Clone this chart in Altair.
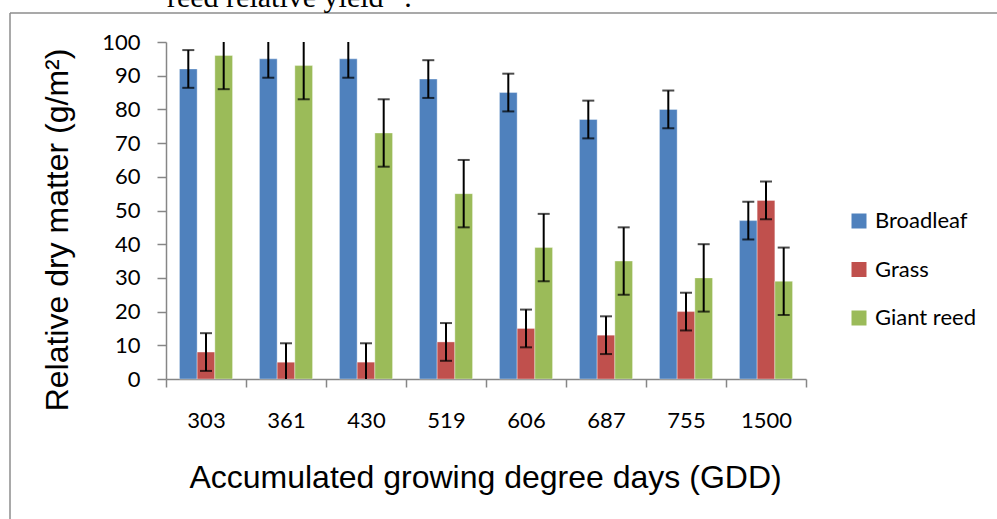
import altair as alt
import pandas as pd

gdd = ["303", "361", "430", "519", "606", "687", "755", "1500"]
series = ["Broadleaf", "Grass", "Giant reed"]
colors = ["#4F81BD", "#C0504D", "#9BBB59"]

broadleaf = [92, 95, 95, 89, 85, 77, 80, 47]
grass = [8, 5, 5, 11, 15, 13, 20, 53]
giant_reed = [96, 93, 73, 55, 39, 35, 30, 29]

broadleaf_err = [5.6, 5.6, 5.6, 5.6, 5.6, 5.6, 5.6, 5.6]
grass_err = [5.6, 5.6, 5.6, 5.6, 5.6, 5.6, 5.6, 5.6]
giant_reed_err = [10, 10, 10, 10, 10, 10, 10, 10]

y_ticks = [0, 10, 20, 30, 40, 50, 60, 70, 80, 90, 100]
caption = "reed relative yield\u201d ."

rows = []
for name, vals, errs in [("Broadleaf", broadleaf, broadleaf_err),
                         ("Grass", grass, grass_err),
                         ("Giant reed", giant_reed, giant_reed_err)]:
    for g, v, e in zip(gdd, vals, errs):
        rows.append({"gdd": g, "series": name, "value": v, "lo": v - e, "hi": v + e})
df = pd.DataFrame(rows)

W, H = 640, 337
PAD_L, PAD_T = 166, 42
AX = "#868686"

x_axis = alt.Axis(
    title="Accumulated growing degree days (GDD)",
    labelAngle=0, labelFont="Lato", labelFontSize=22, labelColor="black",
    labelPadding=23, tickSize=8, tickWidth=1.5, tickColor=AX,
    domainColor=AX, domainWidth=1.5, tickBand="extent", grid=False,
    labelOverlap=False,
    titleFont="Liberation Sans", titleFontSize=32, titleFontWeight="normal",
    titleColor="black", titleX=319, titleY=108, titleBaseline="alphabetic",
    titleAlign="center",
)
y_axis = alt.Axis(
    title="Relative dry matter (g/m\u00b2)", values=y_ticks,
    tickCount=11, grid=False, labelOverlap=False,
    labelFont="Lato", labelFontSize=22, labelColor="black",
    labelPadding=17, tickSize=9, tickWidth=1.5, tickColor=AX,
    domainColor=AX, domainWidth=1.5,
    titleFont="Liberation Sans", titleFontSize=32,
    titleFontWeight="normal", titleColor="black",
    titleAngle=270, titleX=-99, titleY=187.5,
    titleBaseline="alphabetic", titleAlign="center",
)

x_scale = alt.Scale(paddingInner=0, paddingOuter=0)
xo_scale = alt.Scale(paddingInner=0, paddingOuter=0.76)
y_scale = alt.Scale(domain=[0, 100], nice=False, zero=True)


def xe():
    return alt.X("gdd:N", sort=gdd, scale=x_scale, axis=x_axis)


def xoe():
    return alt.XOffset("series:N", sort=series, scale=xo_scale)


def ye(field):
    return alt.Y(field, type="quantitative", scale=y_scale, axis=y_axis)


base = alt.Chart(df)

bars = base.mark_bar(stroke="white", strokeWidth=0.6, strokeOpacity=0.6).encode(
    x=xe(), xOffset=xoe(), y=ye("value"),
    color=alt.Color("series:N", sort=series,
                    scale=alt.Scale(domain=series, range=colors),
                    legend=alt.Legend(
                        title=None, orient="none", legendX=682, legendY=168,
                        symbolType="square", symbolSize=225, symbolStrokeWidth=0,
                        labelFont="Lato", labelFontSize=22, labelColor="black",
                        rowPadding=26.5, labelOffset=5, padding=0,
                    )),
)

err = base.mark_rule(color="black", strokeWidth=2, clip=True).encode(
    x=xe(), xOffset=xoe(), y=ye("lo"), y2="hi:Q",
)
cap_lo = base.mark_tick(color="black", thickness=2, size=12, clip=True,
                        orient="horizontal").encode(
    x=xe(), xOffset=xoe(), y=ye("lo"),
)
cap_hi = base.mark_tick(color="black", thickness=2, size=12, clip=True,
                        orient="horizontal").encode(
    x=xe(), xOffset=xoe(), y=ye("hi"),
)

one = alt.Chart(pd.DataFrame({"k": [0]}))
frame_v = one.mark_rule(color="#8c8c8c", strokeWidth=1.5).encode(
    x=alt.value(10 - PAD_L), y=alt.value(13 - PAD_T), y2=alt.value(600))
frame_h = one.mark_rule(color="#8c8c8c", strokeWidth=1.5).encode(
    x=alt.value(10 - PAD_L), x2=alt.value(1000), y=alt.value(13 - PAD_T))
cap_text = alt.Chart(pd.DataFrame({"t": [caption]})).mark_text(
    font="Liberation Serif", fontSize=30, align="left", baseline="alphabetic",
    color="black",
).encode(text="t:N", x=alt.value(167 - PAD_L), y=alt.value(7 - PAD_T))

chart = alt.layer(bars, err, cap_lo, cap_hi, frame_v, frame_h, cap_text).properties(
    width=W, height=H,
    autosize=alt.AutoSizeParams(type="none"),
    padding={"left": PAD_L, "top": PAD_T, "right": 997 - PAD_L - W, "bottom": 519 - PAD_T - H},
    background="white",
).configure_view(stroke=None)

chart.save("out.html", embed_options={"renderer": "svg", "actions": False})
